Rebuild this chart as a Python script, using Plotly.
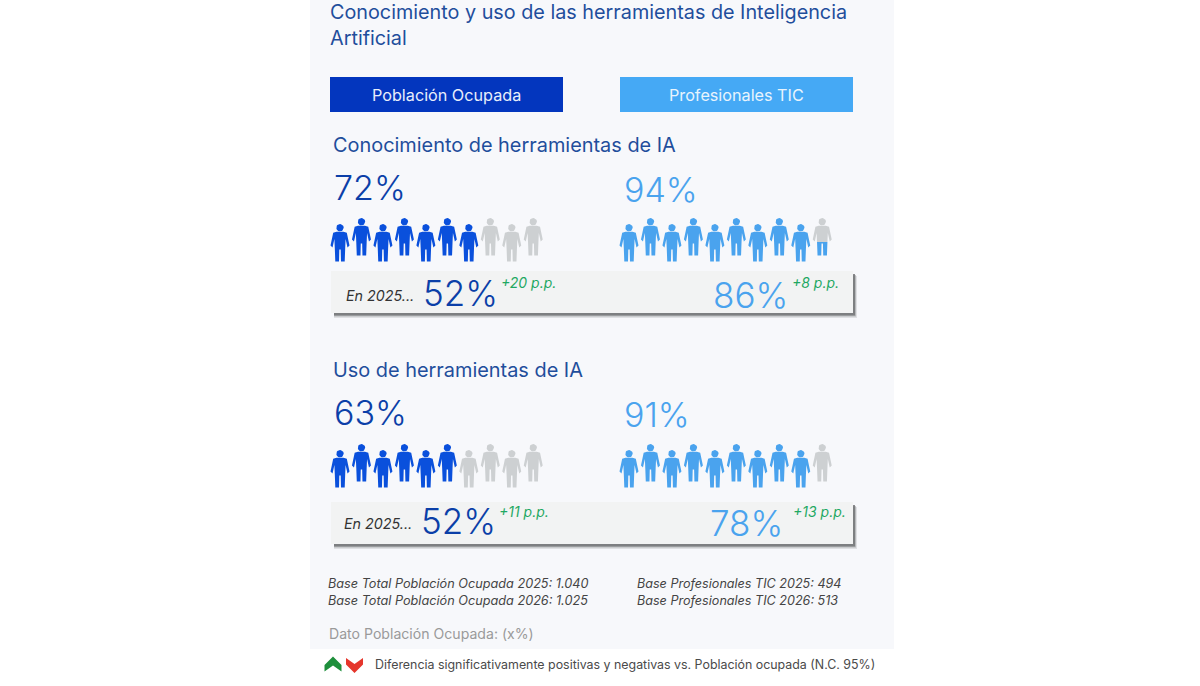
"""
plot.py: Conocimiento y uso de herramientas de IA, pictogram of 10 people per group.
"""

import numpy as np
import plotly.graph_objects as go

TITLE = "Conocimiento y uso de las herramientas de Inteligencia<br>Artificial"
GROUPS = ["Población Ocupada", "Profesionales TIC"]
SECTIONS = ["Conocimiento de herramientas de IA", "Uso de herramientas de IA"]

# one value per group, one list per section
VALUES_2026 = [[72, 94], [63, 91]]
VALUES_2025 = [[52, 86], [52, 78]]
DIFF_PP = [["+20 p.p.", "+8 p.p."], ["+11 p.p.", "+13 p.p."]]
EN_2025 = "En 2025..."

# people coloured out of 10 (a .5 means only the legs are coloured)
PEOPLE = [[7, 9.5], [6, 9]]

BASES_LEFT = ["Base Total Población Ocupada 2025: 1.040", "Base Total Población Ocupada 2026: 1.025"]
BASES_RIGHT = ["Base Profesionales TIC 2025: 494", "Base Profesionales TIC 2026: 513"]
DATO = "Dato Población Ocupada: (x%)"
NOTE = "Diferencia significativamente positivas y negativas vs. Población ocupada (N.C. 95%)"

FONT = "Inter, sans-serif"
NAVY = "#1F4E9C"
DARK_BLUE = "#0B3FA8"
BLUE = "#0A50DC"
LIGHT = "#4AA3EE"
GREY = "#CDD0D2"
GREEN = "#1FA862"

# person outline, centred on x=0, y=0 at the top of the head, height 38
ANG = np.linspace(0, 2 * np.pi, 25)
HEAD_X, HEAD_Y = 3.7 * np.cos(ANG), 3.7 + 3.7 * np.sin(ANG)
TORSO_X = [-3.5, 3.5, 6.8, 9.5, 7.5, 5.6, 5.2, -5.2, -5.6, -7.5, -9.5, -6.8, -3.5]
TORSO_Y = [7.8, 7.8, 8.8, 21.5, 23.5, 15, 24, 24, 15, 23.5, 21.5, 8.8, 7.8]
LEGS_X = [-5.2, 5.2, 4.7, 1, 0.7, -0.7, -1, -4.7, -5.2]
LEGS_Y = [24, 24, 37.5, 37.5, 25.5, 25.5, 37.5, 37.5, 24]


def person(xc, yt, parts):
    xs, ys = [], []
    for px, py in parts:
        xs += [xc + v for v in px] + [None]
        ys += [yt + v for v in py] + [None]
    return xs, ys


HEAD = (HEAD_X, HEAD_Y)
TORSO = (TORSO_X, TORSO_Y)
LEGS = (LEGS_X, LEGS_Y)


def add_row(fig, x0, y_low, filled, color):
    # alternating people: even ones sit 6 px lower than odd ones
    on_x, on_y, off_x, off_y = [], [], [], []
    for i in range(10):
        xc = x0 + i * 21.47
        yt = y_low - (6 if i % 2 else 0)
        if i + 1 <= filled:
            xs, ys = person(xc, yt, [HEAD, TORSO, LEGS])
            on_x += xs
            on_y += ys
        elif i + 0.5 == filled:
            xs, ys = person(xc, yt, [LEGS])
            on_x += xs
            on_y += ys
            xs, ys = person(xc, yt, [HEAD, TORSO])
            off_x += xs
            off_y += ys
        else:
            xs, ys = person(xc, yt, [HEAD, TORSO, LEGS])
            off_x += xs
            off_y += ys
    for xs, ys, c in [(on_x, on_y, color), (off_x, off_y, GREY)]:
        if xs:
            fig.add_trace(go.Scatter(x=xs, y=ys, mode="lines", fill="toself", fillcolor=c,
                                     line=dict(width=0), hoverinfo="skip", showlegend=False))


def label(fig, x, y, text, size, color, italic=False, anchor="left", weight=400):
    # annotations sit about 2 px inside their anchor
    fig.add_annotation(x=x - 2 if anchor == "left" else x, y=y,
                       text=f"<i>{text}</i>" if italic else text, showarrow=False,
                       xanchor=anchor, yanchor="middle", align="left",
                       font=dict(family=FONT, size=size, color=color, weight=weight))


def rect(x0, y0, x1, y1, color, opacity=1.0):
    return dict(type="rect", layer="below", x0=x0, y0=y0, x1=x1, y1=y1,
                fillcolor=color, opacity=opacity, line=dict(width=0))


fig = go.Figure()
shapes = [rect(310, 0, 894, 649, "#F7F8FB")]

# group header buttons
shapes.append(rect(330, 77, 563, 112, "#0336BE"))
shapes.append(rect(620, 77, 853, 112, "#45A9F5"))

label(fig, 330, 25, TITLE, 19.8, NAVY)
label(fig, 446.5, 95, GROUPS[0], 16.2, "#E8EEFB", anchor="center")
label(fig, 736.5, 95, GROUPS[1], 16.2, "#E8F4FD", anchor="center")

LAYOUT = [
    dict(head_y=145, val_y=[187, 189], people_y=224, band=(271, 314), en=(346, 295),
         old=[(423, 293), (713, 295)], diff=[(501, 282), (792, 282)]),
    dict(head_y=370, val_y=[412, 414], people_y=450, band=(502, 545), en=(344, 523),
         old=[(421, 521), (710, 523)], diff=[(499, 511), (793, 511)]),
]
for s, pos in enumerate(LAYOUT):
    top, bottom = pos["band"]
    # soft shadow then band
    shapes.append(rect(334, top + 5, 857, bottom + 4, "#A8AAAC", 0.3))
    shapes.append(rect(334, top + 4, 856, bottom + 2.5, "#8E9092", 0.5))
    shapes.append(rect(334, top + 3, 855, bottom + 1.5, "#6F7173", 0.8))
    shapes.append(rect(331, top, 853, bottom - 1, "#F2F3F3"))

    label(fig, 333, pos["head_y"], SECTIONS[s], 19.9, NAVY)
    label(fig, 334, pos["val_y"][0], f"{VALUES_2026[s][0]}%", 34, DARK_BLUE, weight=300)
    label(fig, 624, pos["val_y"][1], f"{VALUES_2026[s][1]}%", 34, LIGHT, weight=300)
    add_row(fig, 340, pos["people_y"], PEOPLE[s][0], BLUE)
    add_row(fig, 629, pos["people_y"], PEOPLE[s][1], LIGHT)

    label(fig, pos["en"][0], pos["en"][1], EN_2025, 14.3, "#333333", italic=True)
    label(fig, pos["old"][0][0], pos["old"][0][1], f"{VALUES_2025[s][0]}%", 35, DARK_BLUE, weight=300)
    label(fig, pos["old"][1][0], pos["old"][1][1], f"{VALUES_2025[s][1]}%", 35, LIGHT, weight=300)
    label(fig, pos["diff"][0][0], pos["diff"][0][1], DIFF_PP[s][0], 14, GREEN, italic=True)
    label(fig, pos["diff"][1][0], pos["diff"][1][1], DIFF_PP[s][1], 14, GREEN, italic=True)

for i, y in enumerate([583, 600]):
    label(fig, 328, y, BASES_LEFT[i], 12.7, "#444444", italic=True)
    label(fig, 637, y, BASES_RIGHT[i], 12.6, "#444444", italic=True)
label(fig, 328.5, 633, DATO, 14.1, "#9A9A9A")
label(fig, 375, 664, NOTE, 12.4, "#4A4A4A")

# significance chevrons
shapes.append(dict(type="path", layer="above", fillcolor="#1E8F3C", line=dict(width=0),
                   path="M 324.5 665 L 333 656.5 L 341.5 665 L 341.5 671.5 L 333 665.5 L 324.5 671.5 Z"))
shapes.append(dict(type="path", layer="above", fillcolor="#E5362C", line=dict(width=0),
                   path="M 346 658 L 354.5 664 L 363 658 L 363 664.5 L 354.5 673 L 346 664.5 Z"))

fig.update_layout(
    width=1200, height=686,
    margin=dict(l=0, r=0, t=0, b=0),
    paper_bgcolor="white", plot_bgcolor="white",
    showlegend=False, shapes=shapes,
    xaxis=dict(range=[0, 1200], visible=False, fixedrange=True),
    yaxis=dict(range=[686, 0], visible=False, fixedrange=True),
)

# drop the browser's default page margin so the figure fills the window
fig.write_html("out.html", config={"displayModeBar": False},
               post_script="document.body.style.margin='0';")
